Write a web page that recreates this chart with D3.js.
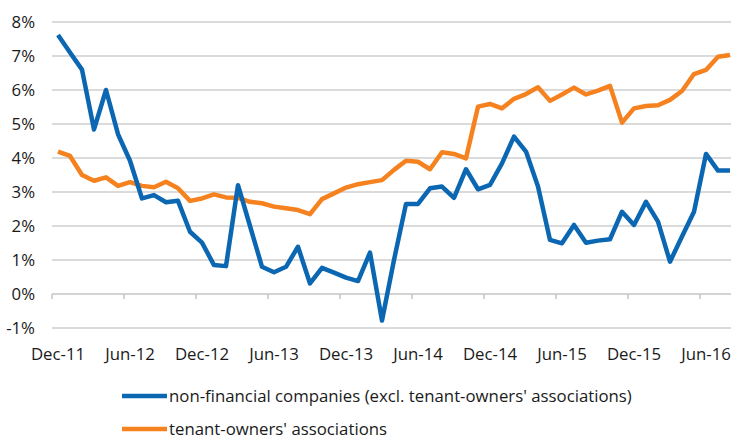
<!DOCTYPE html>
<html>
<head>
<meta charset="utf-8">
<script src="https://cdn.jsdelivr.net/npm/d3@7"></script>
<style>
  body { margin: 0; background: #fff; }
  svg { display: block; font-family: "Open Sans", sans-serif; }
</style>
</head>
<body>
<svg width="731" height="441"></svg>
<script>
// monthly, Dec-11 .. Aug-16
var startMonth = new Date(2011, 11, 1);
var nonFinancial = [7.62,
    7.1, 6.6, 4.84, 6.0, 4.7, 3.92, 2.81, 2.91, 2.70, 2.74, 1.83, 1.51,
    0.85, 0.82, 3.2, 2.0, 0.80, 0.64, 0.80, 1.39, 0.31, 0.77, 0.63, 0.48,
    0.38, 1.22, -0.78, 1.0, 2.65, 2.65, 3.11, 3.16, 2.83, 3.67, 3.08, 3.21,
    3.84, 4.63, 4.19, 3.16, 1.59, 1.49, 2.03, 1.51, 1.57, 1.61, 2.42, 2.03,
    2.71, 2.13, 0.95, 1.69, 2.42, 4.12, 3.63, 3.63];
var tenantOwners = [4.19,
    4.06, 3.50, 3.33, 3.43, 3.18, 3.29, 3.18, 3.14, 3.30, 3.11, 2.74, 2.81,
    2.93, 2.84, 2.83, 2.71, 2.67, 2.57, 2.52, 2.47, 2.35, 2.79, 2.96, 3.13,
    3.23, 3.29, 3.35, 3.65, 3.92, 3.89, 3.67, 4.17, 4.12, 3.99, 5.51, 5.59,
    5.46, 5.74, 5.88, 6.08, 5.68, 5.87, 6.07, 5.87, 5.98, 6.12, 5.04, 5.46,
    5.53, 5.55, 5.71, 5.97, 6.47, 6.59, 6.98, 7.03];
var xTickLabels = ["Dec-11", "Jun-12", "Dec-12", "Jun-13", "Dec-13",
    "Jun-14", "Dec-14", "Jun-15", "Dec-15", "Jun-16"];
var yTicks = [-1, 0, 1, 2, 3, 4, 5, 6, 7, 8];
var seriesNames = ["non-financial companies (excl. tenant-owners' associations)",
    "tenant-owners' associations"];
var colors = ["#0b67b2", "#f5821f"];

var fmt = d3.timeFormat("%b-%y");
var months = d3.timeMonth.range(startMonth, d3.timeMonth.offset(startMonth, nonFinancial.length)).map(fmt);

var svg = d3.select("svg");

var x = d3.scaleBand().domain(months).range([52, 52 + months.length * 12]).padding(0);
var y = d3.scaleLinear().domain([-1, 8]).range([328, 22]);
var cx = function(m) { return x(m) + x.bandwidth() / 2; };

// gridlines
svg.append("g").selectAll("line")
    .data(yTicks.filter(function(d) { return d !== 0; }))
    .join("line")
    .attr("x1", 52).attr("x2", 731)
    .attr("y1", function(d) { return y(d); }).attr("y2", function(d) { return y(d); })
    .attr("stroke", "#cfcfcf").attr("stroke-width", 1.5);

// y labels
svg.append("g").selectAll("text")
    .data(yTicks)
    .join("text")
    .attr("x", 35).attr("y", function(d) { return y(d); })
    .attr("dy", "0.35em")
    .attr("text-anchor", "end")
    .attr("font-size", 16.8).attr("fill", "#1a1a1a")
    .text(function(d) { return d + "%"; });

// x axis at 0%
var axis = svg.append("g");
axis.append("line")
    .attr("x1", 52).attr("x2", 731).attr("y1", y(0)).attr("y2", y(0))
    .attr("stroke", "#c4c4c4").attr("stroke-width", 1.5);
axis.selectAll(".tick").data(xTickLabels).join("line")
    .attr("x1", function(d) { return x(d); }).attr("x2", function(d) { return x(d); })
    .attr("y1", y(0)).attr("y2", y(0) + 5)
    .attr("stroke", "#c4c4c4").attr("stroke-width", 1.5);
axis.selectAll("text").data(xTickLabels).join("text")
    .attr("x", function(d) { return cx(d); }).attr("y", 360)
    .attr("text-anchor", "middle")
    .attr("font-size", 16.8).attr("fill", "#1a1a1a")
    .text(function(d) { return d; });

// lines
var line = d3.line()
    .x(function(d, i) { return cx(months[i]); })
    .y(function(d) { return y(d); });

[tenantOwners, nonFinancial].forEach(function(s, k) {
    svg.append("path")
        .datum(s)
        .attr("fill", "none")
        .attr("stroke", colors[1 - k])
        .attr("stroke-width", 4.5)
        .attr("stroke-linejoin", "round")
        .attr("d", line);
});

// legend
var legend = svg.append("g").selectAll("g").data(seriesNames).join("g")
    .attr("transform", function(d, i) { return "translate(0," + (396 + i * 33) + ")"; });
legend.append("line")
    .attr("x1", 122).attr("x2", 167).attr("y1", 0).attr("y2", 0)
    .attr("stroke", function(d, i) { return colors[i]; })
    .attr("stroke-width", 4.5);
legend.append("text")
    .attr("x", 169).attr("y", 0).attr("dy", "0.35em")
    .attr("font-size", 16.8).attr("fill", "#1a1a1a")
    .text(function(d) { return d; });
</script>
</body>
</html>
